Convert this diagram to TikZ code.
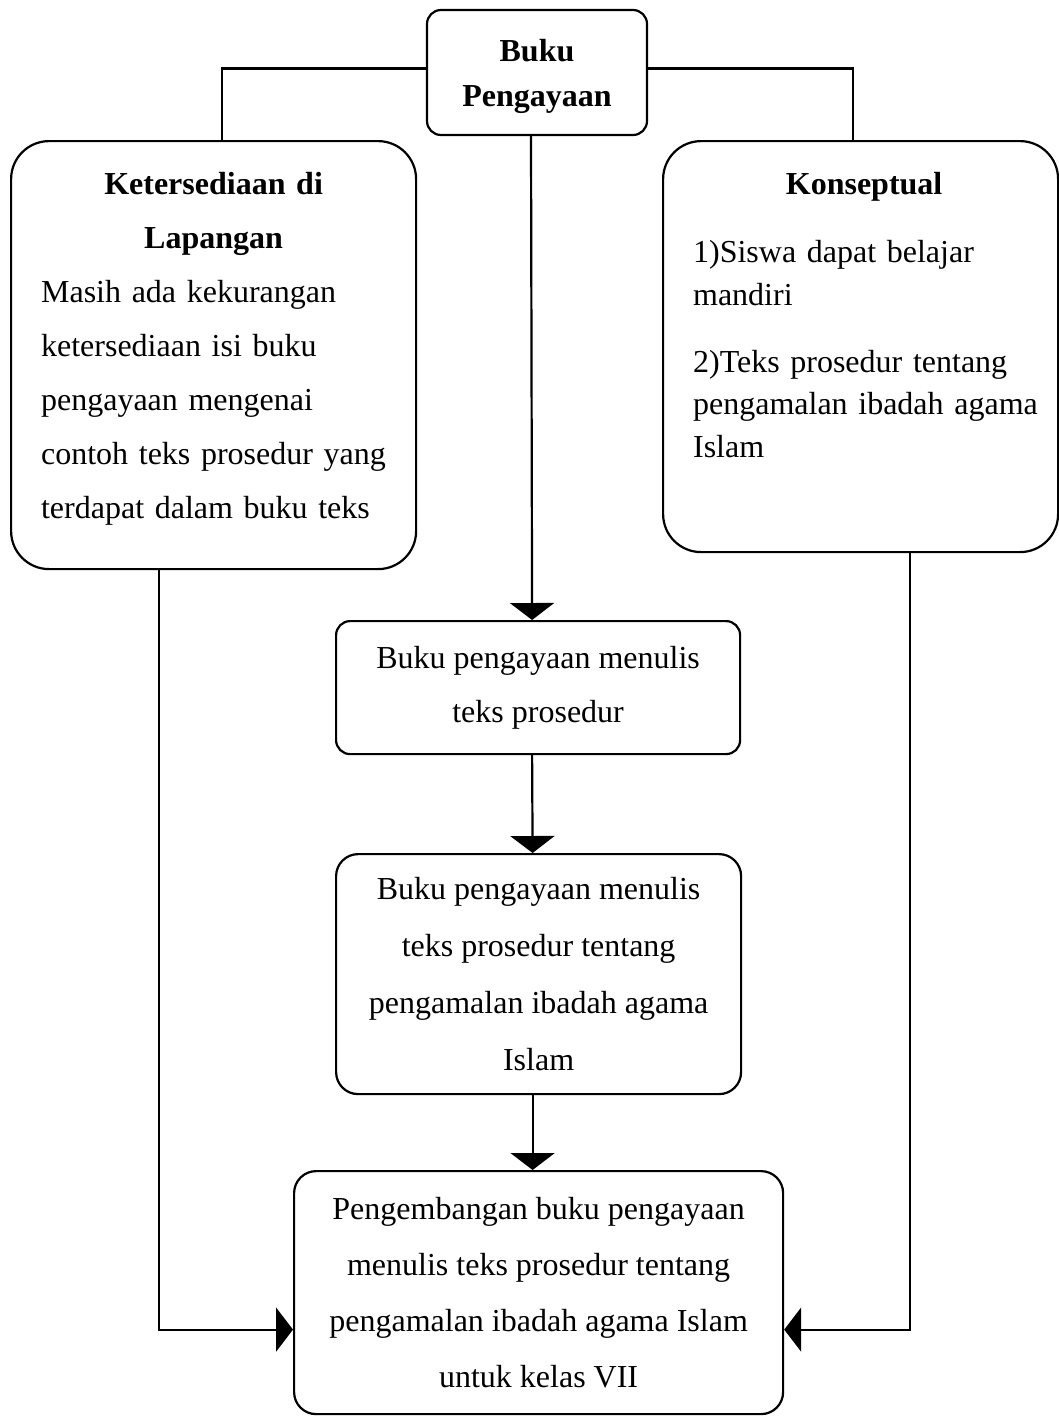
\documentclass[tikz,border=0pt]{standalone}
\usepackage{fontspec}
\setmainfont{Liberation Serif}
\usetikzlibrary{arrows.meta,positioning,calc}

\begin{document}
\begin{tikzpicture}[x=1pt, y=-1pt,
  box/.style={draw, line width=2.2pt, inner sep=0pt, align=center, font=\fontsize{32}{56}\selectfont},
  side/.style={draw, line width=2.2pt, inner sep=0pt, rounded corners=38pt, anchor=north west},
  arr/.style={-{Triangle[width=44pt,length=17pt]}, line width=2.2pt},
  link/.style={line width=2.2pt}
]
\useasboundingbox (0,0) rectangle (1059,1416);
% top node
\node[box, rounded corners=14pt, minimum width=220pt, minimum height=125pt, font=\bfseries\fontsize{32}{45}\selectfont] (buku) at (537,72.5) {\rule{0pt}{30pt}Buku\\Pengayaan};
% side boxes
\node[side, minimum width=405pt, minimum height=428pt, text width=345pt, font=\fontsize{32}{54}\selectfont] (lapangan) at (10,140)
  {{\centering\bfseries Ketersediaan di\\ Lapangan\par}\raggedright
   Masih ada kekurangan\\ ketersediaan isi buku\\ pengayaan mengenai\\ contoh teks prosedur yang\\ terdapat dalam buku teks\par\vspace*{12pt}\hrule height 0pt width 0pt};
\node[side, minimum width=395pt, minimum height=411pt, text width=335pt, font=\fontsize{32}{42.5}\selectfont] (konsep) at (662,140)
  {{\centering\bfseries\hspace*{7pt}Konseptual\par}\vspace{26pt}\raggedright
   1)Siswa dapat belajar\\ mandiri\par\vspace{24.5pt}
   2)Teks prosedur tentang\\ \mbox{pengamalan ibadah agama}\\ Islam\par\vspace*{64pt}\hrule height 0pt width 0pt};
% middle column
\node[box, rounded corners=14pt, anchor=north west, minimum width=404pt, minimum height=133pt, font=\fontsize{32}{54}\selectfont] (menulis) at (335,620)
  {Buku pengayaan menulis\\ teks prosedur};
\node[box, rounded corners=22pt, anchor=north west, minimum width=405pt, minimum height=240pt, font=\fontsize{32}{57}\selectfont] (ibadah) at (335,853)
  {Buku pengayaan menulis\\ teks prosedur tentang\\ pengamalan ibadah agama\\ Islam};
\node[box, rounded corners=22pt, anchor=north west, minimum width=489pt, minimum height=243pt] (hasil) at (293,1170)
  {Pengembangan buku pengayaan\\ menulis teks prosedur tentang\\ pengamalan ibadah agama Islam\\ untuk kelas VII};
% connectors
\draw[link] ([yshift=4pt]buku.west) -| ([xshift=8pt]lapangan.north);
\draw[link] ([yshift=4pt]buku.east) -| ([xshift=-8pt]konsep.north);
\draw[arr] ([xshift=-6pt]buku.south) -- ([xshift=-6pt]menulis.north);
\draw[arr] ([xshift=-6pt]menulis.south) -- ([xshift=-6pt]ibadah.north);
\draw[arr] ([xshift=-6pt]ibadah.south) -- ([xshift=-6pt]hasil.north);
\draw[arr] ([xshift=149pt]lapangan.south west) |- ([yshift=-37pt]hasil.west);
\draw[arr] ([xshift=-149pt]konsep.south east) |- ([yshift=-37pt]hasil.east);
\end{tikzpicture}
\end{document}
